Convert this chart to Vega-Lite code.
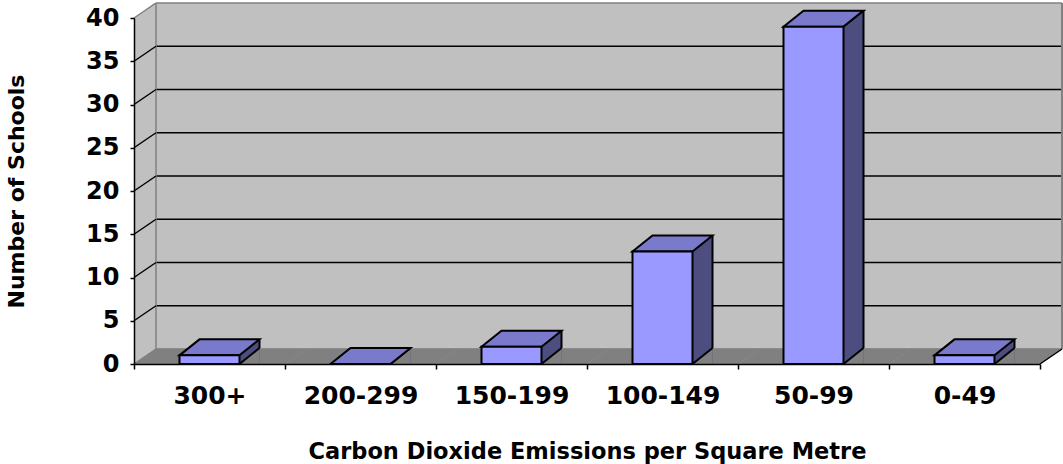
{
  "$schema": "https://vega.github.io/schema/vega-lite/v6.json",
  "width": 906,
  "height": 346,
  "autosize": {"type": "none"},
  "padding": {"left": 134, "top": 18, "right": 23, "bottom": 100},
  "background": "white",
  "config": {"view": {"stroke": null}},
  "resolve": {"axis": {"x": "independent", "y": "independent"}},
  "datasets": {
    "schools": [
      {"range": "300+", "schools": 1},
      {"range": "200-299", "schools": 0},
      {"range": "150-199", "schools": 2},
      {"range": "100-149", "schools": 13},
      {"range": "50-99", "schools": 39},
      {"range": "0-49", "schools": 1}
    ],
    "gridlines": [
      {"level": 0}, {"level": 5}, {"level": 10}, {"level": 15}, {"level": 20},
      {"level": 25}, {"level": 30}, {"level": 35}, {"level": 40}
    ],
    "frame": [{"part": "frame"}]
  },
  "layer": [
    {
      "data": {"name": "schools"},
      "mark": {"type": "rect", "fill": "#c0c0c0", "opacity": 1, "xOffset": 22, "x2Offset": 22, "yOffset": -15, "y2Offset": -15},
      "encoding": {
        "x": {"field": "range", "type": "nominal", "sort": null, "scale": {"domain": ["300+", "200-299", "150-199", "100-149", "50-99", "0-49"], "paddingInner": 0, "paddingOuter": 0}, "axis": null},
        "y": {"datum": 0, "type": "quantitative", "scale": {"domain": [0, 40], "nice": false}, "axis": null},
        "y2": {"datum": 40}
      }
    },
    {
      "data": {"name": "frame"},
      "mark": {"type": "rule", "stroke": "#c0c0c0", "strokeWidth": 22, "opacity": 1, "xOffset": 11, "x2Offset": 11, "y2Offset": -15},
      "encoding": {
        "x": {"datum": "300+", "type": "nominal", "bandPosition": 0, "axis": null},
        "y": {"datum": 0, "type": "quantitative", "axis": null},
        "y2": {"datum": 40}
      }
    },
    {
      "data": {"name": "frame"},
      "mark": {"type": "point", "shape": "M0,0L0,-17L23,-17Z", "size": 4, "filled": true, "fill": "white", "strokeWidth": 0, "opacity": 1},
      "encoding": {
        "x": {"datum": "300+", "type": "nominal", "bandPosition": 0, "axis": null},
        "y": {"datum": 40, "type": "quantitative", "axis": null}
      }
    },
    {
      "data": {"name": "gridlines"},
      "mark": {"type": "rule", "strokeWidth": 1.5, "opacity": 1, "xOffset": 22, "x2Offset": 22, "yOffset": -15},
      "encoding": {
        "x": {"datum": "300+", "type": "nominal", "bandPosition": 0, "axis": null},
        "x2": {"datum": "0-49", "bandPosition": 1},
        "y": {"field": "level", "type": "quantitative", "axis": null},
        "color": {"condition": {"test": "datum.level == 0 || datum.level == 40", "value": "#808080"}, "value": "#000000"}
      }
    },
    {
      "data": {"name": "frame"},
      "mark": {"type": "rule", "stroke": "#808080", "strokeWidth": 1.5, "opacity": 1, "xOffset": 22, "x2Offset": 22, "yOffset": -15, "y2Offset": -15},
      "encoding": {
        "x": {"datum": "300+", "type": "nominal", "bandPosition": 0, "axis": null},
        "y": {"datum": 0, "type": "quantitative", "axis": null},
        "y2": {"datum": 40}
      }
    },
    {
      "data": {"name": "frame"},
      "mark": {"type": "rule", "stroke": "#808080", "strokeWidth": 2, "opacity": 1, "xOffset": 22, "x2Offset": 22, "yOffset": -15, "y2Offset": -15},
      "encoding": {
        "x": {"datum": "0-49", "type": "nominal", "bandPosition": 1, "axis": null},
        "y": {"datum": 0, "type": "quantitative", "axis": null},
        "y2": {"datum": 40}
      }
    },
    {
      "data": {"name": "gridlines"},
      "mark": {"type": "point", "shape": "M0,0L22,-15", "size": 4, "filled": false, "strokeWidth": 1.5, "opacity": 1},
      "encoding": {
        "x": {"datum": "300+", "type": "nominal", "bandPosition": 0, "axis": null},
        "y": {"field": "level", "type": "quantitative", "axis": null},
        "color": {"condition": {"test": "datum.level == 0 || datum.level == 40", "value": "#808080"}, "value": "#000000"}
      }
    },
    {
      "data": {"name": "schools"},
      "mark": {"type": "point", "shape": "M-75.5,0L75.5,0L97.5,-15L-53.5,-15Z", "size": 4, "filled": true, "fill": "#808080", "stroke": "#808080", "strokeWidth": 0.6, "opacity": 1},
      "encoding": {
        "x": {"field": "range", "type": "nominal", "sort": null, "axis": null},
        "y": {"datum": 0, "type": "quantitative", "axis": null}
      }
    },
    {
      "data": {"name": "frame"},
      "mark": {"type": "point", "shape": "M0,0L22,-15", "size": 4, "filled": false, "stroke": "#000000", "strokeWidth": 1.5, "opacity": 1},
      "encoding": {
        "x": {"datum": "0-49", "type": "nominal", "bandPosition": 1, "axis": null},
        "y": {"datum": 0, "type": "quantitative", "axis": null}
      }
    },
    {
      "data": {"name": "schools"},
      "mark": {"type": "bar", "width": 20, "xOffset": 40, "yOffset": -16, "fill": "#4d4d80", "opacity": 1},
      "encoding": {
        "x": {"field": "range", "type": "nominal", "sort": null, "axis": null},
        "y": {"field": "schools", "type": "quantitative", "axis": null},
        "y2": {"datum": 0}
      }
    },
    {
      "data": {"name": "schools"},
      "mark": {"type": "point", "shape": "M30,0L50,-16L50,0Z", "size": 4, "filled": true, "fill": "#808080", "strokeWidth": 0, "opacity": 1},
      "encoding": {
        "x": {"field": "range", "type": "nominal", "sort": null, "axis": null},
        "y": {"datum": 0, "type": "quantitative", "axis": null}
      }
    },
    {
      "data": {"name": "schools"},
      "mark": {"type": "rule", "stroke": "#000000", "strokeWidth": 2, "opacity": 1, "xOffset": 50, "x2Offset": 50, "yOffset": -16, "y2Offset": -16},
      "encoding": {
        "x": {"field": "range", "type": "nominal", "sort": null, "axis": null},
        "y": {"field": "schools", "type": "quantitative", "axis": null},
        "y2": {"datum": 0}
      }
    },
    {
      "data": {"name": "schools"},
      "mark": {"type": "point", "shape": "M30,0L50,-16", "size": 4, "filled": false, "stroke": "#000000", "strokeWidth": 2, "opacity": 1},
      "encoding": {
        "x": {"field": "range", "type": "nominal", "sort": null, "axis": null},
        "y": {"datum": 0, "type": "quantitative", "axis": null}
      }
    },
    {
      "data": {"name": "schools"},
      "mark": {"type": "point", "shape": "M-30,0L30,0L50,-16L-10,-16Z", "size": 4, "filled": true, "fill": "#7a7acc", "stroke": "#000000", "strokeWidth": 2, "strokeJoin": "miter", "opacity": 1},
      "encoding": {
        "x": {"field": "range", "type": "nominal", "sort": null, "axis": null},
        "y": {"field": "schools", "type": "quantitative", "axis": null}
      }
    },
    {
      "data": {"name": "schools"},
      "mark": {"type": "bar", "width": 60, "fill": "#9999ff", "stroke": "#000000", "strokeWidth": 2, "strokeJoin": "miter", "opacity": 1},
      "encoding": {
        "x": {
          "field": "range", "type": "nominal", "sort": null,
          "axis": {
            "title": "Carbon Dioxide Emissions per Square Metre",
            "titleFont": "DejaVu Sans", "titleFontWeight": "bold", "titleFontSize": 22.5, "titleColor": "#000000", "titlePadding": 32,
            "labelFont": "DejaVu Sans", "labelFontWeight": "bold", "labelFontSize": 25, "labelColor": "#000000", "labelPadding": 14, "labelAngle": 0,
            "tickBand": "extent", "tickSize": 5, "tickColor": "#000000", "tickWidth": 1.5,
            "domainColor": "#000000", "domainWidth": 1.5, "zindex": 1
          }
        },
        "y": {
          "field": "schools", "type": "quantitative",
          "axis": {
            "title": "Number of Schools",
            "titleFont": "DejaVu Sans", "titleFontWeight": "bold", "titleFontSize": 22, "titleColor": "#000000", "titlePadding": 57,
            "labelFont": "DejaVu Sans", "labelFontWeight": "bold", "labelFontSize": 24, "labelColor": "#000000", "labelPadding": 11,
            "values": [0, 5, 10, 15, 20, 25, 30, 35, 40], "grid": false,
            "tickSize": 4, "tickColor": "#000000", "tickWidth": 1.5,
            "domainColor": "#000000", "domainWidth": 1.5, "zindex": 1
          }
        },
        "y2": {"datum": 0}
      }
    }
  ]
}
